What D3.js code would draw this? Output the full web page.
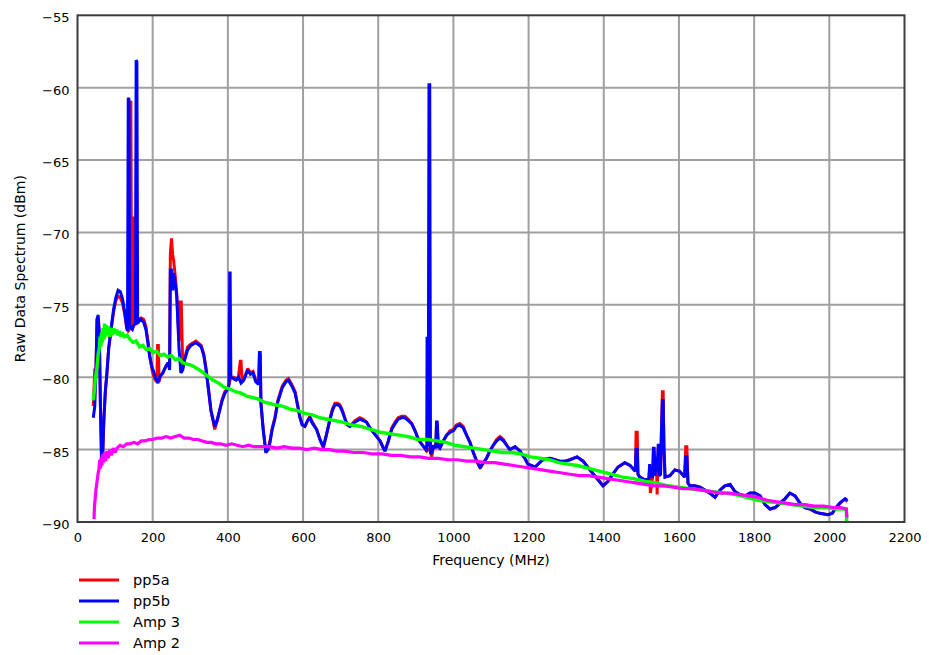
<!DOCTYPE html>
<html><head><meta charset="utf-8">
<script src="https://cdn.jsdelivr.net/npm/d3@7"></script>
<style>body{margin:0;background:#fff} svg{display:block;font-family:"DejaVu Sans",sans-serif}</style>
</head><body>
<svg id="chart" width="929" height="655"></svg>
<script>
const xTicks = [0,200,400,600,800,1000,1200,1400,1600,1800,2000,2200];
const yTicks = [-90,-85,-80,-75,-70,-65,-60,-55];
const seriesNames = ["pp5a","pp5b","Amp 3","Amp 2"];
const seriesColors = ["#ff0000","#0000ff","#00ff00","#ff00ff"];
const xTitle = "Frequency (MHz)";
const yTitle = "Raw Data Spectrum (dBm)";

const pp5a = [[42,-82.0],[46,-79.4],[49,-79.6],[52,-76.0],[55,-75.9],[58,-77.0],[61,-82.0],[64,-85.6],[67,-85.4],[70,-83.0],[74,-81.0],[78,-79.8],[83,-78.0],[89,-76.8],[96,-75.5],[102,-74.7],[108,-74.4],[114,-74.5],[120,-74.9],[126,-75.7],[131,-76.6],[135,-76.8],[138,-76.7],[140,-61.0],[142,-61.0],[144,-76.4],[146,-76.7],[149,-69.0],[151,-69.0],[153,-76.3],[157,-76.3],[162,-76.0],[169,-75.9],[176,-76.0],[182,-76.5],[187,-77.4],[192,-78.4],[197,-79.3],[201,-79.8],[207,-80.2],[211,-80.3],[213,-77.8],[215,-77.8],[217,-80.3],[220,-80.0],[227,-79.7],[234,-79.3],[241,-79.0],[245,-79.3],[247,-71.5],[250,-70.4],[253,-71.5],[256,-72.0],[260,-73.0],[264,-74.2],[270,-77.5],[273,-74.8],[276,-74.8],[280,-79.3],[285,-78.7],[293,-77.9],[302,-77.7],[315,-77.5],[329,-77.8],[336,-78.4],[342,-79.4],[349,-80.9],[355,-82.3],[365,-83.6],[372,-83.0],[378,-82.3],[385,-81.5],[392,-81.0],[400,-80.8],[408,-80.0],[415,-80.0],[422,-80.1],[428,-80.0],[433,-78.9],[435,-78.9],[438,-80.3],[442,-80.2],[453,-79.4],[460,-79.7],[467,-79.6],[474,-80.2],[482,-80.5],[484,-78.5],[486,-78.5],[488,-81.8],[494,-83.6],[501,-85.1],[507,-85.0],[512,-84.4],[518,-83.5],[525,-82.8],[533,-81.6],[545,-80.6],[555,-80.2],[561,-80.1],[570,-80.5],[579,-81.0],[586,-82.0],[592,-82.8],[598,-83.3],[605,-83.4],[612,-83.0],[618,-82.7],[625,-83.1],[636,-83.6],[645,-84.3],[654,-84.9],[662,-84.0],[672,-82.8],[678,-82.2],[685,-81.8],[692,-81.8],[698,-81.9],[705,-82.3],[712,-82.9],[718,-83.3],[725,-83.4],[738,-83.0],[751,-82.8],[760,-82.9],[769,-83.1],[778,-83.5],[787,-83.8],[796,-84.1],[805,-84.4],[812,-84.8],[818,-85.1],[827,-84.4],[836,-83.5],[845,-83.1],[853,-82.8],[862,-82.7],[871,-82.7],[880,-82.9],[889,-83.2],[898,-83.7],[907,-84.3],[915,-84.6],[924,-84.9],[929,-85.1],[933,-85.0],[937,-84.9],[942,-85.5],[948,-84.7],[953,-84.9],[955,-83.5],[957,-83.5],[960,-84.8],[964,-84.9],[973,-84.4],[982,-84.0],[991,-83.7],[1000,-83.6],[1008,-83.3],[1017,-83.2],[1026,-83.4],[1035,-84.0],[1044,-84.5],[1053,-85.2],[1062,-85.8],[1071,-86.3],[1080,-85.9],[1088,-85.6],[1097,-85.1],[1106,-84.7],[1115,-84.3],[1124,-84.1],[1133,-84.3],[1142,-84.7],[1150,-85.0],[1164,-84.8],[1177,-85.1],[1190,-85.6],[1198,-86.0],[1217,-86.2],[1238,-85.7],[1257,-85.6],[1270,-85.7],[1283,-85.8],[1297,-85.8],[1310,-85.7],[1329,-85.5],[1345,-85.8],[1363,-86.4],[1382,-87.0],[1398,-87.5],[1411,-87.2],[1424,-86.7],[1438,-86.2],[1456,-85.9],[1470,-86.1],[1484,-86.5],[1486,-83.8],[1489,-83.8],[1491,-86.7],[1496,-86.9],[1510,-87.1],[1520,-87.0],[1522,-86.3],[1524,-88.0],[1530,-86.9],[1532,-85.2],[1534,-85.2],[1536,-86.8],[1540,-85.8],[1542,-88.1],[1545,-84.8],[1547,-86.8],[1551,-86.7],[1553,-84.3],[1556,-81.0],[1558,-81.0],[1560,-84.8],[1563,-86.9],[1576,-86.8],[1589,-86.4],[1602,-86.5],[1615,-86.9],[1618,-84.8],[1621,-84.8],[1624,-87.3],[1629,-87.5],[1642,-87.5],[1656,-87.6],[1669,-87.8],[1682,-88.0],[1696,-88.3],[1709,-87.8],[1722,-87.5],[1736,-87.4],[1749,-87.9],[1762,-88.1],[1776,-88.2],[1789,-88.0],[1802,-88.0],[1816,-88.2],[1829,-88.8],[1842,-89.1],[1856,-89.0],[1869,-88.7],[1882,-88.4],[1895,-88.0],[1909,-88.2],[1922,-88.7],[1935,-89.0],[1949,-89.1],[1962,-89.3],[1975,-89.4],[1996,-89.5],[2008,-89.4],[2015,-89.1],[2028,-88.7],[2042,-88.4],[2048,-88.6]];

const pp5b = [[42,-82.8],[46,-82.0],[49,-79.6],[52,-76.0],[55,-75.7],[58,-77.0],[61,-82.0],[64,-85.9],[67,-85.4],[70,-83.0],[74,-81.0],[78,-79.8],[83,-78.0],[89,-76.7],[96,-75.3],[102,-74.5],[108,-74.0],[114,-74.1],[120,-74.6],[126,-75.6],[131,-76.6],[133,-76.8],[135,-60.7],[137,-60.8],[139,-76.5],[146,-76.7],[150,-76.4],[154,-76.3],[156,-58.1],[158,-58.2],[160,-76.3],[162,-76.2],[169,-76.0],[176,-76.2],[182,-76.7],[187,-77.6],[192,-78.6],[197,-79.2],[201,-79.5],[207,-80.0],[214,-80.4],[220,-79.9],[227,-79.7],[234,-79.3],[241,-79.0],[245,-79.5],[247,-72.6],[250,-72.6],[253,-74.0],[256,-72.8],[260,-73.5],[264,-74.4],[270,-78.0],[275,-79.7],[280,-79.5],[285,-78.8],[293,-78.1],[302,-77.8],[315,-77.6],[329,-77.9],[336,-78.5],[342,-79.5],[349,-81.0],[355,-82.3],[365,-83.4],[372,-82.9],[378,-82.3],[385,-81.6],[392,-81.1],[400,-80.8],[403,-80.5],[405,-72.8],[406,-72.8],[408,-80.0],[415,-80.1],[422,-80.2],[428,-80.0],[435,-80.4],[442,-80.2],[453,-79.5],[460,-79.8],[467,-79.7],[474,-80.3],[482,-80.5],[484,-78.3],[486,-78.3],[488,-81.8],[494,-83.6],[501,-85.2],[507,-85.0],[512,-84.5],[518,-83.6],[525,-82.9],[533,-81.7],[545,-80.7],[555,-80.3],[561,-80.2],[570,-80.6],[579,-81.1],[586,-82.0],[592,-82.8],[598,-83.3],[605,-83.4],[612,-83.0],[618,-82.8],[625,-83.2],[636,-83.6],[645,-84.3],[654,-84.8],[662,-84.0],[672,-82.9],[678,-82.3],[685,-81.9],[692,-81.9],[698,-82.0],[705,-82.4],[712,-82.9],[718,-83.3],[725,-83.4],[738,-83.1],[751,-82.9],[760,-83.0],[769,-83.1],[778,-83.5],[787,-83.8],[796,-84.1],[805,-84.4],[812,-84.8],[818,-85.1],[827,-84.4],[836,-83.6],[845,-83.2],[853,-82.9],[862,-82.8],[871,-82.8],[880,-83.0],[889,-83.2],[898,-83.7],[907,-84.3],[915,-84.6],[924,-84.9],[929,-85.1],[930,-77.2],[931,-82.0],[933,-84.8],[935,-59.8],[937,-59.8],[939,-85.3],[942,-85.2],[948,-84.7],[953,-84.9],[955,-83.1],[957,-83.1],[960,-84.8],[964,-84.9],[973,-84.4],[982,-84.0],[991,-83.8],[1000,-83.7],[1008,-83.4],[1017,-83.3],[1026,-83.5],[1035,-84.0],[1044,-84.5],[1053,-85.2],[1062,-85.8],[1071,-86.2],[1080,-85.9],[1088,-85.6],[1097,-85.1],[1106,-84.7],[1115,-84.4],[1124,-84.2],[1133,-84.4],[1142,-84.7],[1150,-85.0],[1164,-84.8],[1177,-85.1],[1190,-85.6],[1198,-86.0],[1217,-86.2],[1238,-85.7],[1257,-85.6],[1270,-85.7],[1283,-85.8],[1297,-85.8],[1310,-85.7],[1329,-85.5],[1345,-85.8],[1363,-86.4],[1382,-87.0],[1398,-87.5],[1411,-87.2],[1424,-86.7],[1438,-86.2],[1456,-85.9],[1470,-86.1],[1484,-86.5],[1486,-85.0],[1489,-85.0],[1491,-86.7],[1496,-86.9],[1510,-87.1],[1520,-87.0],[1522,-86.0],[1524,-86.8],[1530,-86.9],[1532,-84.9],[1534,-84.9],[1536,-86.8],[1540,-85.5],[1542,-86.5],[1545,-84.6],[1547,-86.8],[1551,-86.7],[1553,-84.1],[1556,-81.6],[1558,-81.6],[1560,-84.8],[1563,-86.9],[1576,-86.8],[1589,-86.4],[1602,-86.5],[1615,-86.9],[1618,-85.5],[1621,-85.5],[1624,-87.3],[1629,-87.5],[1642,-87.5],[1656,-87.6],[1669,-87.8],[1682,-88.0],[1696,-88.3],[1709,-87.8],[1722,-87.5],[1736,-87.4],[1749,-87.9],[1762,-88.1],[1776,-88.2],[1789,-88.0],[1802,-88.0],[1816,-88.2],[1829,-88.8],[1842,-89.1],[1856,-89.0],[1869,-88.7],[1882,-88.4],[1895,-88.0],[1909,-88.2],[1922,-88.7],[1935,-89.0],[1949,-89.1],[1962,-89.3],[1975,-89.4],[1996,-89.5],[2008,-89.4],[2015,-89.1],[2028,-88.7],[2042,-88.4],[2048,-88.5]];

const amp3 = [[42,-81.6],[45,-80.9],[48,-80.0],[52,-79.3],[55,-78.4],[58,-78.0],[60,-77.2],[62,-77.9],[64,-76.9],[66,-77.6],[68,-76.6],[70,-77.4],[72,-76.3],[74,-77.2],[77,-76.4],[80,-77.1],[83,-76.5],[86,-77.2],[89,-76.6],[93,-77.1],[96,-76.6],[99,-77.0],[103,-76.7],[107,-77.1],[111,-76.8],[115,-77.2],[118,-76.9],[125,-77.2],[132,-77.1],[140,-77.4],[148,-77.6],[156,-77.5],[165,-77.9],[174,-77.8],[183,-78.1],[192,-78.0],[201,-78.3],[210,-78.2],[220,-78.5],[230,-78.4],[240,-78.6],[250,-78.5],[260,-78.8],[270,-78.7],[280,-79.0],[292,-79.1],[305,-79.2],[318,-79.4],[330,-79.6],[345,-79.9],[360,-80.2],[375,-80.4],[390,-80.7],[405,-80.8],[420,-81.0],[435,-81.1],[450,-81.3],[465,-81.4],[480,-81.5],[495,-81.7],[510,-81.8],[525,-81.9],[545,-82.0],[565,-82.2],[585,-82.3],[605,-82.5],[625,-82.6],[645,-82.8],[665,-82.9],[685,-83.0],[705,-83.1],[730,-83.3],[755,-83.4],[780,-83.6],[805,-83.8],[830,-83.9],[855,-84.0],[880,-84.1],[905,-84.3],[930,-84.3],[956,-84.4],[980,-84.5],[1005,-84.7],[1030,-84.8],[1055,-84.9],[1080,-85.0],[1105,-85.1],[1130,-85.2],[1155,-85.2],[1180,-85.3],[1205,-85.5],[1230,-85.6],[1255,-85.7],[1280,-85.9],[1305,-86.0],[1330,-86.1],[1360,-86.3],[1390,-86.5],[1420,-86.7],[1450,-86.9],[1480,-87.0],[1510,-87.2],[1540,-87.3],[1570,-87.5],[1600,-87.6],[1630,-87.7],[1660,-87.8],[1690,-87.9],[1720,-88.0],[1750,-88.1],[1780,-88.3],[1810,-88.5],[1840,-88.6],[1870,-88.7],[1900,-88.8],[1930,-88.9],[1960,-89.0],[1990,-89.0],[2020,-89.1],[2045,-89.1],[2047,-90.3]];

const amp2 = [[44,-89.8],[45,-89.0],[47,-88.4],[49,-87.8],[51,-87.4],[53,-87.0],[55,-86.6],[57,-86.4],[59,-85.7],[61,-86.3],[63,-85.5],[65,-86.1],[67,-85.3],[69,-85.9],[72,-85.2],[75,-85.8],[78,-85.1],[82,-85.6],[86,-85.0],[90,-85.4],[95,-84.9],[100,-85.2],[105,-84.9],[113,-84.7],[122,-84.8],[131,-84.6],[140,-84.6],[150,-84.5],[160,-84.6],[170,-84.4],[180,-84.4],[190,-84.3],[200,-84.3],[212,-84.2],[224,-84.2],[236,-84.1],[248,-84.2],[260,-84.1],[272,-84.0],[284,-84.2],[296,-84.2],[308,-84.3],[320,-84.3],[332,-84.4],[344,-84.5],[356,-84.5],[368,-84.6],[380,-84.6],[395,-84.7],[410,-84.6],[425,-84.7],[440,-84.8],[455,-84.7],[470,-84.8],[490,-84.8],[510,-84.8],[530,-84.9],[550,-84.8],[570,-84.9],[590,-84.9],[610,-85.0],[630,-84.9],[650,-85.0],[670,-85.0],[690,-85.1],[710,-85.1],[735,-85.2],[760,-85.2],[785,-85.3],[810,-85.3],[835,-85.4],[860,-85.4],[885,-85.5],[910,-85.5],[935,-85.6],[960,-85.6],[985,-85.7],[1010,-85.7],[1035,-85.8],[1060,-85.8],[1085,-85.9],[1110,-85.9],[1135,-86.0],[1160,-86.1],[1185,-86.2],[1210,-86.3],[1235,-86.4],[1260,-86.5],[1285,-86.6],[1310,-86.7],[1335,-86.8],[1360,-86.8],[1385,-86.9],[1410,-87.0],[1435,-87.1],[1460,-87.2],[1485,-87.3],[1510,-87.4],[1535,-87.5],[1560,-87.5],[1585,-87.6],[1610,-87.7],[1635,-87.7],[1660,-87.8],[1685,-87.9],[1710,-88.0],[1735,-88.0],[1760,-88.1],[1785,-88.2],[1810,-88.3],[1835,-88.5],[1860,-88.6],[1885,-88.7],[1910,-88.8],[1935,-88.8],[1960,-88.9],[1985,-88.9],[2010,-89.0],[2030,-89.0],[2045,-89.1],[2047,-89.7]];

const seriesData = [pp5a, pp5b, amp3, amp2];
const seriesWidths = [3, 3, 3.4, 3.2];

const svg = d3.select("#chart");
const L = 77.5, R = 904.5, T = 15.3, B = 522;
const x = d3.scaleLinear().domain([0, 2200]).range([L, R]);
const y = d3.scaleLinear().domain([-90, -55]).range([B, T]);

svg.append("defs").append("clipPath").attr("id","plotclip")
  .append("rect").attr("x", L).attr("y", T).attr("width", R - L).attr("height", B - T);

// grid
const grid = svg.append("g");
grid.selectAll("line.vx").data(xTicks.slice(1, -1)).join("line")
  .attr("x1", d => x(d)).attr("x2", d => x(d)).attr("y1", T).attr("y2", B)
  .attr("stroke", "#a0a0a0").attr("stroke-width", 2);
grid.selectAll("line.hy").data(yTicks.slice(1, -1)).join("line")
  .attr("y1", d => y(d)).attr("y2", d => y(d)).attr("x1", L).attr("x2", R)
  .attr("stroke", "#a0a0a0").attr("stroke-width", 2);

// series
const line = d3.line().x(d => x(d[0])).y(d => y(d[1]));
const plot = svg.append("g").attr("clip-path", "url(#plotclip)");
seriesData.forEach((s, i) => {
  plot.append("path").datum(s).attr("d", line)
    .attr("fill", "none").attr("stroke", seriesColors[i])
    .attr("stroke-width", seriesWidths[i]).attr("stroke-linejoin", "miter").attr("stroke-miterlimit", 2);
});

// frame
svg.append("rect").attr("x", L).attr("y", T).attr("width", R - L).attr("height", B - T)
  .attr("fill", "none").attr("stroke", "#3c3c3c").attr("stroke-width", 2);

// axes
const xAxis = svg.append("g").attr("transform", `translate(0,${B})`)
  .call(d3.axisBottom(x).tickValues(xTicks).tickSize(0).tickPadding(11).tickFormat(d3.format("d")));
const yAxis = svg.append("g").attr("transform", `translate(${L},0)`)
  .call(d3.axisLeft(y).tickValues(yTicks).tickSize(0).tickPadding(8).tickFormat(d3.format("d")));
[xAxis, yAxis].forEach(a => {
  a.select(".domain").remove();
  a.selectAll("text").attr("font-family", "DejaVu Sans, sans-serif").attr("font-size", 13).attr("fill", "#000");
});
yAxis.selectAll("text").attr("dy", "0.5em");

svg.append("text").attr("x", (L + R) / 2).attr("y", 565).attr("text-anchor", "middle")
  .attr("font-size", 14).attr("fill", "#000").text(xTitle);
svg.append("text").attr("transform", `translate(25,${(T + B) / 2}) rotate(-90)`)
  .attr("text-anchor", "middle").attr("font-size", 14).attr("fill", "#000").text(yTitle);

// legend
const legY = [580, 601, 622, 643];
const leg = svg.append("g");
seriesNames.forEach((n, i) => {
  leg.append("line").attr("x1", 79).attr("x2", 119).attr("y1", legY[i]).attr("y2", legY[i])
    .attr("stroke", seriesColors[i]).attr("stroke-width", 3);
  leg.append("text").attr("x", 133).attr("y", legY[i] + 5).attr("font-size", 14.5)
    .attr("fill", "#000").text(n);
});
</script>
</body></html>
